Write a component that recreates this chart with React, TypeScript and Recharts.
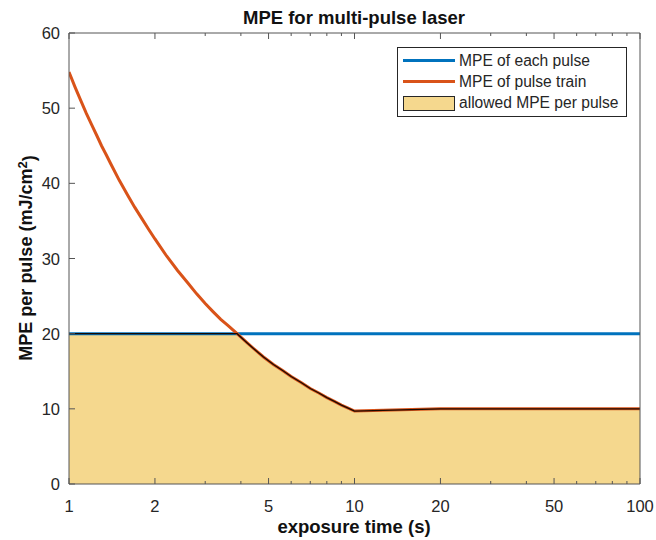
import React from 'react';
import { ComposedChart, Line, Area, XAxis, YAxis, Legend } from 'recharts';

// valores (eje x logarítmico, 1..100 s)
const tiemposTren = [
  1, 1.05, 1.1, 1.15, 1.2, 1.25, 1.3, 1.35, 1.4, 1.5, 1.6, 1.7, 1.8, 1.9, 2, 2.2, 2.4, 2.6, 2.8, 3, 3.2, 3.4, 3.6,
  3.88, 4.2, 4.5, 4.8, 5.2, 5.6, 6, 6.5, 7, 7.5, 8, 8.5, 9, 9.5, 10, 20, 50, 100,
];
const mpeTren = [
  54.8, 52.8, 51.0, 49.3, 47.8, 46.4, 45.0, 43.8, 42.6, 40.4, 38.5, 36.8, 35.3, 33.9, 32.6, 30.3, 28.4, 26.8, 25.3,
  24.0, 22.9, 21.9, 21.1, 20.0, 18.8, 17.8, 16.9, 15.9, 15.1, 14.3, 13.5, 12.7, 12.1, 11.5, 11.0, 10.5, 10.1, 9.7,
  10.0, 10.0, 10.0,
];
const mpePermitido = [
  20, 20, 20, 20, 20, 20, 20, 20, 20, 20, 20, 20, 20, 20, 20, 20, 20, 20, 20, 20, 20, 20, 20, 20.0, 18.8, 17.8, 16.9,
  15.9, 15.1, 14.3, 13.5, 12.7, 12.1, 11.5, 11.0, 10.5, 10.1, 9.7, 10.0, 10.0, 10.0,
];
const tiemposPulso = [1, 100];
const mpePulso = [20, 20];

const ticksX = [1, 2, 3, 4, 5, 6, 7, 8, 9, 10, 20, 30, 40, 50, 60, 70, 80, 90, 100];
const etiquetasX = [1, 2, 5, 10, 20, 50, 100];
const ticksY = [0, 10, 20, 30, 40, 50, 60];

const series = [
  { nombre: 'MPE of each pulse', color: '#0072BD', tipo: 'linea' },
  { nombre: 'MPE of pulse train', color: '#D95319', tipo: 'linea' },
  { nombre: 'allowed MPE per pulse', color: '#F5D88E', tipo: 'area' },
];

const datosTren = tiemposTren.map((t, i) => ({ t, v: mpeTren[i] }));
const datosPermitido = tiemposTren.map((t, i) => ({ t, v: mpePermitido[i] }));
const datosPulso = tiemposPulso.map((t, i) => ({ t, v: mpePulso[i] }));

const FUENTE = '"Liberation Sans", Arial, Helvetica, sans-serif';
const EJE = '#555555';
const TEXTO = '#262626';

const TickXAbajo = ({ x, y, payload }: any) => {
  const mayor = etiquetasX.includes(payload.value);
  return (
    <g>
      <line x1={x} x2={x} y1={y} y2={y - (mayor ? 6 : 3)} stroke={EJE} strokeWidth={1} />
      {mayor && (
        <text x={x} y={y + 28} textAnchor="middle" fontSize={16.5} fill={TEXTO} fontFamily={FUENTE}>
          {payload.value}
        </text>
      )}
    </g>
  );
};

const TickXArriba = ({ x, y, payload }: any) => {
  const mayor = etiquetasX.includes(payload.value);
  return <line x1={x} x2={x} y1={y} y2={y + (mayor ? 6 : 3)} stroke={EJE} strokeWidth={1} />;
};

const TickYIzq = ({ x, y, payload }: any) => (
  <g>
    <line x1={x} x2={x + 6} y1={y} y2={y} stroke={EJE} strokeWidth={1} />
    <text x={x - 9} y={y + 6} textAnchor="end" fontSize={16.5} fill={TEXTO} fontFamily={FUENTE}>
      {payload.value}
    </text>
  </g>
);

const TickYDer = ({ x, y }: any) => <line x1={x} x2={x - 6} y1={y} y2={y} stroke={EJE} strokeWidth={1} />;

const Leyenda = () => (
  <div
    style={{
      width: 228,
      border: '1px solid #262626',
      background: '#fff',
      padding: '2px 0',
      fontFamily: FUENTE,
      fontSize: 15.6,
      color: TEXTO,
    }}
  >
    {series.map((s) => (
      <div key={s.nombre} style={{ display: 'flex', alignItems: 'center', height: 21.3 }}>
        {s.tipo === 'area' ? (
          <div style={{ marginLeft: 5, width: 50, height: 13, background: s.color, border: '1px solid #262626' }} />
        ) : (
          <div style={{ marginLeft: 5, width: 52, height: 3, background: s.color }} />
        )}
        <span style={{ marginLeft: 4, whiteSpace: 'nowrap' }}>{s.nombre}</span>
      </div>
    ))}
  </div>
);

export default function App() {
  return (
    <div style={{ position: 'absolute', left: 0, top: 0, width: 656, height: 540, background: '#fff' }}>
      <ComposedChart width={656} height={540} margin={{ top: 32, right: 15, bottom: 55, left: 0 }}>
        <XAxis
          xAxisId="abajo"
          dataKey="t"
          type="number"
          scale="log"
          domain={[1, 100]}
          allowDataOverflow
          ticks={ticksX}
          interval={0}
          height={1}
          tickSize={0}
          tickMargin={0}
          tick={<TickXAbajo />}
          axisLine={{ stroke: EJE, strokeWidth: 1 }}
        />
        <XAxis
          xAxisId="arriba"
          orientation="top"
          dataKey="t"
          type="number"
          scale="log"
          domain={[1, 100]}
          allowDataOverflow
          ticks={ticksX}
          interval={0}
          height={1}
          tickSize={0}
          tickMargin={0}
          tick={<TickXArriba />}
          axisLine={{ stroke: EJE, strokeWidth: 1 }}
        />
        <YAxis
          yAxisId="izq"
          type="number"
          domain={[0, 60]}
          ticks={ticksY}
          interval={0}
          width={69}
          tickSize={0}
          tickMargin={0}
          tick={<TickYIzq />}
          axisLine={{ stroke: EJE, strokeWidth: 1 }}
        />
        <YAxis
          yAxisId="der"
          orientation="right"
          type="number"
          domain={[0, 60]}
          ticks={ticksY}
          interval={0}
          width={1}
          tickSize={0}
          tickMargin={0}
          tick={<TickYDer />}
          axisLine={{ stroke: EJE, strokeWidth: 1 }}
        />
        <Area
          xAxisId="abajo"
          yAxisId="izq"
          data={datosPermitido}
          dataKey="v"
          type="linear"
          stroke="none"
          fill={series[2].color}
          fillOpacity={1}
          isAnimationActive={false}
        />
        <Line
          xAxisId="abajo"
          yAxisId="izq"
          data={datosPulso}
          dataKey="v"
          type="linear"
          stroke={series[0].color}
          strokeWidth={3}
          dot={false}
          isAnimationActive={false}
        />
        <Line
          xAxisId="abajo"
          yAxisId="izq"
          data={datosTren}
          dataKey="v"
          type="linear"
          stroke={series[1].color}
          strokeWidth={3}
          dot={false}
          isAnimationActive={false}
        />
        {/* borde oscuro del área permitida, encima de las líneas */}
        <Line
          xAxisId="abajo"
          yAxisId="izq"
          data={datosPermitido}
          dataKey="v"
          type="linear"
          stroke="#1a0a00"
          strokeWidth={1.3}
          dot={false}
          isAnimationActive={false}
        />
        <Legend
          layout="vertical"
          align="center"
          verticalAlign="middle"
          content={<Leyenda />}
          wrapperStyle={{ left: 397, top: 47, width: 230 }}
        />
      </ComposedChart>
      <svg
        width={656}
        height={540}
        style={{ position: 'absolute', left: 0, top: 0, pointerEvents: 'none' }}
        fontFamily={FUENTE}
      >
        <text x={354} y={24} textAnchor="middle" fontSize={18.5} fontWeight="bold" fill="#111">
          MPE for multi-pulse laser
        </text>
        <text x={354} y={533} textAnchor="middle" fontSize={18.5} fontWeight="bold" fill="#111">
          exposure time (s)
        </text>
        <text transform="translate(26, 258) rotate(-90)" dy="0.36em" textAnchor="middle" fontSize={18} fontWeight="bold" fill="#111">
          MPE per pulse (mJ/cm
          <tspan dy="-0.45em" fontSize={13}>2</tspan>
          <tspan dy="0.45em">)</tspan>
        </text>
      </svg>
    </div>
  );
}
